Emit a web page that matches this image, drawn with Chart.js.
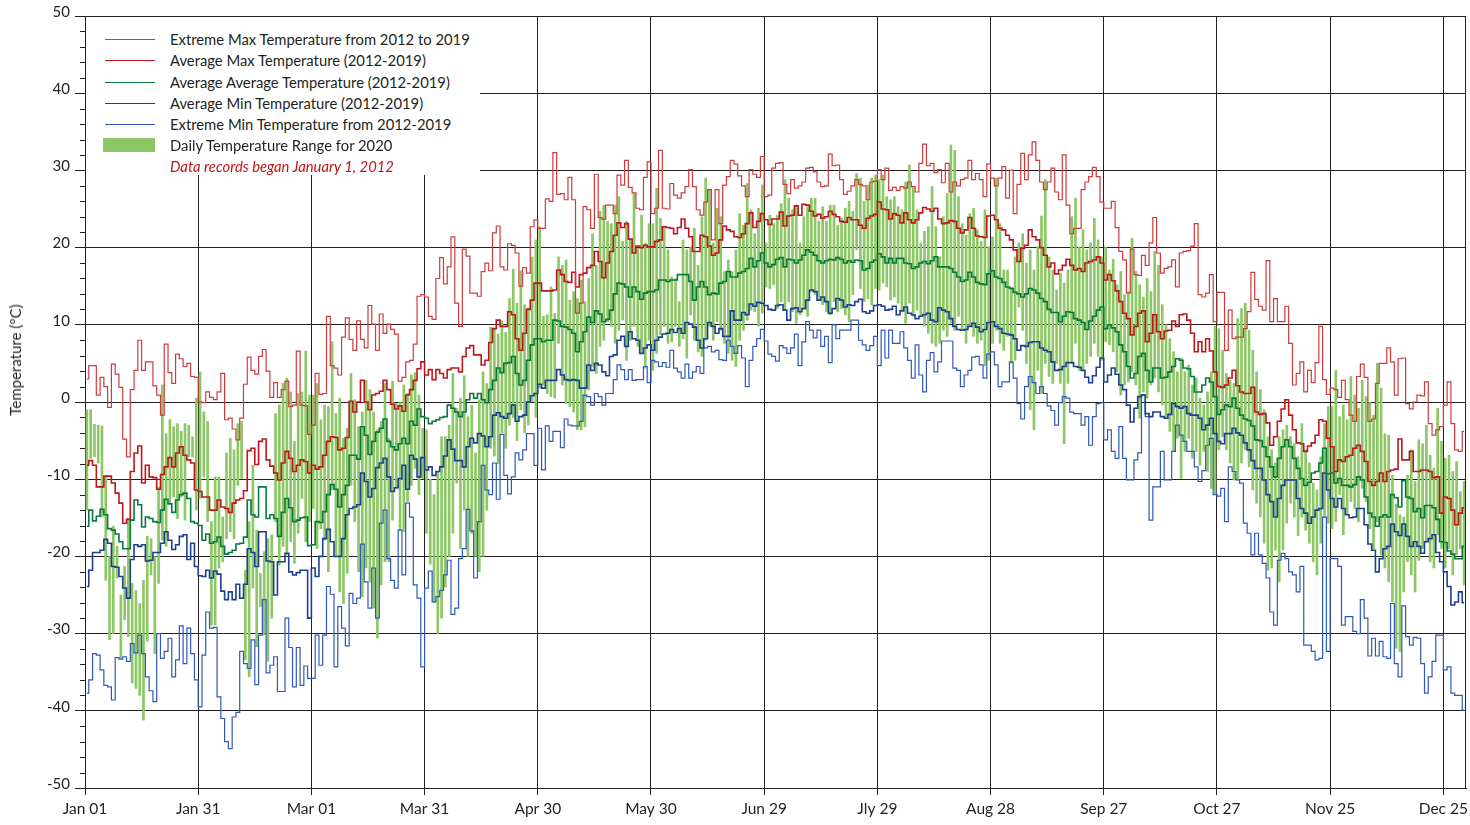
<!DOCTYPE html>
<html>
<head>
<meta charset="utf-8">
<title>Daily Temperature Range 2020</title>
<script src="https://cdn.jsdelivr.net/npm/chart.js@4.4.1/dist/chart.umd.min.js"></script>
<style>
    body { margin: 0; background: #fff; }
    #wrap { position: relative; width: 1470px; height: 825px; }
    #legend {
        position: absolute; left: 86px; top: 17px; width: 394px; height: 158px;
        background: #fff; font-family: Lato, sans-serif; font-size: 14.8px; color: #231f20;
    }
    .row { position: absolute; left: 0; height: 20px; line-height: 20px; width: 394px; }
    .row .mark { position: absolute; left: 19px; top: 10px; width: 50px; height: 0; }
    .row .txt { position: absolute; left: 84px; top: 0; white-space: nowrap; }
    #ytitle {
        position: absolute; left: 15px; top: 360px; transform: translate(-50%, -50%) rotate(-90deg);
        font-family: Lato, sans-serif; font-size: 15px; color: #231f20; white-space: nowrap;
    }
</style>
</head>
<body>
<div id="wrap">
    <canvas id="chart"></canvas>
    <div id="legend"></div>
    <div id="ytitle">Temperature (°C)</div>
</div>
<script>
// x axis ticks (day of year, 2020 is a leap year)
const tickDays = [0, 30, 60, 90, 120, 150, 180, 210, 240, 270, 300, 330, 360];
const tickLabels = ['Jan 01', 'Jan 31', 'Mar 01', 'Mar 31', 'Apr 30', 'May 30', 'Jun 29',
    'Jly 29', 'Aug 28', 'Sep 27', 'Oct 27', 'Nov 25', 'Dec 25'];

// one value per day, Jan 1 .. Dec 31 (30 days per line, last line 36)
const extMax = [
    3, 4.7, 4.7, 0.9, 3.2, 2.0, -0.7, 4.9, 3.6, 1.9, -4.8, -7.1, 1.6, 4.1, 8.0, 4.1, 5.2, 5.2, 2.1, 0.9, -1.7, 7.5, 3.8, 2.4, 6.2, 5.6, 4.6, 5.0, 3.3, 3.2,
    0.0, -0.1, 1.3, 0.6, 0.3, 1.3, 3.7, -2.3, -2.1, -3.5, -4.9, -2.1, 2.3, 5.8, 4.1, 3.6, 5.9, 6.8, 4.0, 0.6, 2.5, 0.6, 1.6, 2.7, -0.6, -0.4, 6.6, -0.4, -0.5, -4.2,
    -3.0, 3.7, 1.0, 1.1, 11.1, 4.7, 4.4, 3.5, 8.4, 10.9, 8.1, 6.7, 10.5, 8.1, 7.0, 12.5, 10.1, 6.7, 11.4, 8.9, 10.1, 9.4, 8.8, 2.7, 3.2, 5.2, 5.4, 7.5, 13.7, 13.9,
    13.6, 11.1, 10.7, 16.0, 18.7, 15.3, 17.5, 21.4, 12.8, 9.8, 19.8, 18.9, 14.1, 14.1, 13.7, 16.9, 18.0, 17.0, 21.9, 22.8, 17.5, 17.1, 20.5, 20.3, 19.3, 15.0, 17.4, 16.7, 22.7, 23.6,
    22.5, 22.5, 26.3, 26.0, 32.3, 26.9, 27.0, 26.2, 29.1, 26.2, 11.5, 12.8, 25.3, 24.9, 22.5, 29.5, 23.9, 23.7, 25.5, 25.5, 24.4, 29.4, 28.1, 31.3, 27.8, 27.1, 25.1, 24.9, 29.1, 31.1,
    24.4, 25.1, 32.6, 25.1, 25.0, 28.3, 26.8, 26.4, 27.1, 27.9, 30.1, 27.9, 24.9, 24.2, 25.9, 27.5, 21.0, 27.5, 23.1, 28.1, 29.2, 31.3, 30.8, 29.3, 28.0, 26.6, 30.1, 29.5, 29.1, 31.8,
    26.6, 26.8, 30.3, 30.9, 31.0, 28.2, 27.0, 28.8, 27.7, 28.0, 28.5, 30.3, 30.4, 29.8, 28.5, 27.9, 28.0, 32.1, 30.6, 30.7, 28.8, 26.9, 27.3, 28.0, 28.8, 28.2, 28.0, 26.2, 28.5, 28.6,
    30.1, 28.8, 30.3, 27.4, 27.8, 27.4, 27.9, 27.7, 28.5, 27.9, 27.2, 30.9, 33.4, 30.6, 30.9, 29.7, 30.1, 28.4, 30.9, 27.2, 28.5, 28.0, 28.8, 29.0, 31.3, 28.8, 29.6, 28.8, 26.6, 30.8,
    29.0, 28.0, 29.0, 30.5, 26.4, 30.0, 24.4, 28.2, 32.2, 28.8, 32.0, 33.7, 31.3, 28.5, 27.5, 28.5, 30.3, 27.2, 26.2, 32.0, 25.5, 21.8, 22.5, 22.5, 27.5, 28.5, 29.2, 30.4, 29.2, 25.9,
    25.1, 25.1, 26.0, 22.6, 19.5, 18.4, 14.1, 19.8, 16.5, 16.4, 19.0, 17.7, 20.6, 23.9, 19.3, 16.7, 17.3, 17.5, 18.4, 14.9, 19.3, 19.5, 19.6, 20.2, 23.1, 13.9, 13.6, 14.1, 16.5, 10.4,
    14.2, 14.2, 6.7, 11.9, 8.2, 8.4, 8.4, 9.5, 11.7, 16.8, 13.3, 12.4, 11.9, 18.3, 10.4, 13.4, 10.4, 10.4, 12.4, 7.6, 2.2, 3.7, 5.2, 1.3, 4.1, 2.5, 5.1, 9.8, 2.9, 1.0,
    1.8, 1.6, 0.6, 2.8, 0.3, -1.7, -2.5, 3.3, 4.9, 3.2, -2.5, -2.2, 2.4, 5.0, 5.0, 7.0, 5.2, 0.9, 5.6, 5.7, -0.2, -0.9, 0.0, 0.9, 0.8, 2.6, -2.8, -4.3, -3.6, -3.2, -0.4, 2.6, -2.8, -6.2, -6.4, -3.8
];

const avgMax = [
    -8.2, -7.6, -8.2, -11.0, -11.0, -9.6, -9.6, -10.5, -11.8, -13.1, -15.7, -15.2, -9.0, -6.6, -5.7, -10.5, -8.2, -9.7, -9.8, -11.3, -9.4, -8.4, -7.2, -8.4, -6.6, -5.8, -6.9, -7.5, -7.9, -11.4,
    -11.6, -12.3, -12.3, -14.0, -14.0, -12.7, -13.6, -13.8, -14.3, -13.1, -12.7, -12.5, -11.5, -6.3, -6.0, -8.1, -5.1, -4.8, -7.5, -8.3, -9.2, -10.1, -7.9, -6.4, -7.3, -9.0, -8.2, -7.5, -7.7, -9.2,
    -8.2, -8.7, -8.4, -6.9, -5.1, -4.5, -4.6, -6.2, -6.0, -4.6, 0.1, -1.3, 0.0, 2.8, 0.0, -1.0, 0.9, 1.1, 1.4, 2.8, 1.6, -0.3, -0.9, -0.5, -1.2, 0.9, 1.6, 2.8, 4.3, 5.2,
    3.5, 4.2, 2.9, 4.2, 3.7, 3.1, 4.2, 4.4, 4.4, 3.9, 5.9, 7.0, 7.3, 6.1, 6.1, 4.8, 5.4, 7.7, 9.5, 10.6, 9.8, 9.8, 11.7, 11.3, 8.2, 6.7, 8.9, 12.0, 13.2, 15.4,
    15.4, 14.4, 14.4, 14.4, 14.5, 17.1, 16.5, 15.6, 15.5, 16.8, 14.9, 16.5, 16.7, 17.4, 17.7, 19.5, 18.2, 16.1, 18.0, 19.5, 21.6, 23.2, 22.6, 23.1, 21.1, 19.3, 20.2, 20.0, 20.3, 20.1,
    20.1, 20.8, 21.0, 22.7, 22.6, 22.5, 21.8, 22.6, 23.7, 22.5, 21.4, 19.5, 19.5, 21.6, 21.4, 20.2, 19.0, 19.3, 21.0, 22.8, 22.3, 22.1, 21.4, 21.3, 21.8, 23.1, 24.5, 22.6, 23.4, 24.4,
    23.6, 23.0, 23.7, 23.7, 24.6, 22.8, 24.1, 24.2, 25.4, 24.2, 25.6, 25.5, 24.7, 24.1, 24.3, 23.8, 24.0, 24.7, 24.3, 24.0, 23.4, 23.3, 23.9, 23.6, 23.6, 22.9, 22.5, 23.8, 24.1, 24.3,
    25.9, 25.0, 24.9, 23.7, 24.4, 24.2, 23.2, 24.5, 23.6, 23.2, 23.6, 24.5, 25.2, 25.0, 24.7, 25.1, 23.7, 23.1, 23.2, 23.5, 23.4, 22.5, 21.9, 22.3, 23.9, 22.5, 21.5, 21.4, 21.3, 24.1,
    24.2, 23.6, 22.5, 22.3, 21.6, 21.0, 19.7, 18.2, 19.9, 20.3, 22.3, 21.4, 21.0, 20.0, 19.0, 17.5, 18.0, 16.6, 17.1, 17.7, 18.5, 17.7, 17.1, 17.3, 16.9, 18.0, 18.2, 18.4, 18.8, 18.0,
    15.8, 16.5, 15.7, 14.4, 13.0, 11.5, 10.8, 8.7, 9.8, 11.5, 11.8, 7.8, 8.9, 11.3, 9.1, 8.2, 9.2, 9.3, 10.5, 9.8, 11.3, 11.4, 10.6, 8.9, 6.5, 7.8, 6.5, 8.2, 6.6, 3.9,
    2.0, 1.9, 2.2, 3.1, 4.1, 2.1, 1.3, 1.1, 1.1, 1.9, -1.3, -1.6, -1.5, -2.7, -5.6, -4.5, -2.5, -0.9, 0.3, -1.7, -3.6, -5.3, -5.4, -6.4, -5.7, -5.3, -4.3, -2.3, -2.5, -4.7,
    -5.8, -9.0, -7.5, -7.7, -7.1, -6.9, -6.0, -5.6, -6.4, -7.7, -10.3, -10.8, -10.3, -9.2, -10.3, -9.0, -8.8, -8.7, -4.8, -7.5, -7.5, -6.4, -9.0, -9.0, -8.8, -8.8, -9.0, -9.8, -9.7, -14.4, -12.3, -12.5, -14.0, -15.9, -14.4, -13.7
];

const avgAvg = [
    -16.1, -14.0, -15.4, -14.8, -13.9, -14.6, -16.4, -16.6, -17.1, -18.1, -19.0, -19.0, -15.3, -12.7, -13.3, -16.2, -14.9, -15.1, -15.5, -15.6, -14.0, -12.6, -13.2, -14.3, -12.7, -12.0, -11.8, -12.5, -15.5, -15.7,
    -16.0, -17.9, -17.1, -18.3, -18.1, -17.5, -18.7, -19.7, -19.5, -19.2, -18.4, -18.3, -17.5, -12.7, -14.6, -14.9, -11.0, -11.0, -15.1, -14.6, -15.1, -17.4, -14.3, -12.5, -13.7, -15.5, -15.3, -15.0, -14.9, -18.6,
    -18.5, -15.5, -15.6, -14.2, -12.0, -10.7, -11.3, -13.6, -12.0, -10.8, -6.9, -6.9, -7.4, -3.2, -4.3, -6.8, -5.1, -3.9, -3.4, -2.2, -5.1, -5.8, -6.2, -5.4, -4.7, -5.4, -2.5, -3.0, -0.9, -1.9,
    -2.1, -2.8, -2.5, -2.3, -2.0, -1.9, -0.4, -0.8, -1.3, -1.9, -1.3, 0.3, 1.1, 0.5, 1.1, 0.3, -0.1, 1.6, 2.8, 4.4, 3.8, 5.0, 5.1, 5.9, 3.7, 2.2, 2.8, 5.4, 7.4, 8.2,
    8.2, 7.8, 8.0, 8.0, 10.6, 10.5, 9.8, 9.7, 9.4, 8.9, 6.5, 7.8, 9.1, 11.0, 10.3, 11.8, 11.4, 10.4, 10.7, 11.9, 14.0, 15.4, 15.3, 14.9, 13.6, 14.9, 14.3, 13.3, 14.1, 14.3,
    14.3, 14.5, 15.8, 15.8, 15.6, 15.8, 15.8, 16.5, 16.5, 16.5, 15.6, 13.2, 14.9, 15.6, 14.9, 13.9, 14.1, 14.0, 15.4, 15.6, 16.9, 16.2, 16.2, 16.7, 16.9, 17.3, 18.6, 17.5, 18.3, 19.3,
    18.0, 17.5, 17.8, 18.5, 18.7, 17.5, 18.5, 18.4, 18.0, 18.4, 19.0, 19.7, 19.4, 19.0, 18.3, 18.0, 18.3, 18.5, 18.4, 18.7, 18.5, 18.0, 18.3, 18.1, 18.4, 18.3, 17.1, 17.3, 18.1, 18.4,
    19.2, 18.8, 18.0, 18.6, 18.0, 18.6, 18.6, 18.0, 17.9, 17.3, 17.5, 18.0, 18.2, 17.9, 18.3, 18.8, 17.5, 17.5, 17.5, 17.3, 16.8, 16.2, 15.6, 15.8, 16.8, 16.2, 15.5, 15.3, 15.2, 16.6,
    17.0, 16.2, 16.0, 15.5, 14.9, 14.7, 14.2, 14.0, 13.6, 14.0, 14.7, 14.5, 14.1, 13.4, 13.0, 12.0, 11.6, 11.6, 10.4, 11.1, 11.7, 11.6, 10.8, 10.6, 10.3, 9.4, 10.5, 11.1, 11.9, 12.3,
    9.5, 10.0, 9.6, 9.1, 7.4, 6.5, 4.6, 3.1, 3.7, 5.9, 6.3, 4.1, 2.6, 4.4, 4.4, 3.1, 3.2, 3.9, 4.6, 5.6, 5.4, 4.4, 4.3, 3.3, 1.3, 1.3, 2.2, 3.1, 2.6, 0.7,
    -1.6, -1.0, -0.4, -0.6, 0.5, -0.8, -1.7, -2.2, -2.4, -3.1, -4.9, -5.0, -5.8, -7.1, -8.4, -9.7, -7.3, -5.8, -4.9, -5.8, -7.3, -8.6, -9.9, -10.8, -10.4, -9.2, -9.0, -7.9, -6.0, -9.3,
    -9.2, -10.5, -9.9, -10.8, -10.8, -11.0, -10.7, -9.7, -10.1, -12.3, -14.4, -14.9, -16.1, -14.9, -14.6, -14.9, -12.0, -12.4, -13.6, -10.2, -12.3, -12.5, -14.2, -13.8, -15.0, -13.4, -13.4, -13.7, -15.2, -18.1, -18.2, -19.3, -19.7, -20.3, -20.3, -18.7
];

const avgMin = [
    -23.9, -21.8, -19.5, -19.5, -19.2, -17.8, -18.3, -21.3, -21.4, -22.6, -24.1, -25.4, -20.4, -18.5, -18.7, -18.5, -20.6, -20.5, -19.5, -19.5, -18.3, -16.8, -17.9, -19.1, -18.5, -17.4, -17.2, -20.4, -18.3, -21.3,
    -22.5, -22.6, -21.8, -22.8, -21.9, -22.3, -24.5, -25.6, -24.6, -25.6, -23.6, -25.4, -23.6, -19.0, -19.5, -21.3, -16.8, -16.8, -20.6, -20.7, -25.0, -20.7, -20.7, -19.6, -22.0, -22.4, -22.1, -21.8, -21.8, -28.0,
    -21.5, -22.6, -20.0, -17.7, -16.5, -18.1, -20.0, -20.0, -17.7, -14.6, -13.8, -13.6, -13.3, -9.2, -10.3, -12.3, -11.2, -8.5, -7.9, -7.3, -9.7, -11.6, -11.1, -9.9, -8.2, -11.3, -6.9, -7.4, -9.7, -7.2,
    -8.8, -8.4, -9.5, -9.0, -8.4, -7.0, -4.9, -6.1, -7.6, -7.6, -8.4, -5.8, -4.7, -5.3, -4.1, -4.4, -5.8, -4.5, -1.7, -1.4, -1.9, -2.1, -1.5, -0.4, -2.5, -1.9, -1.7, 0.0, 0.8, 1.1,
    2.3, 1.8, 2.8, 2.8, 2.8, 4.2, 3.5, 2.9, 2.8, 2.9, 2.8, 1.8, 1.8, 4.8, 4.1, 5.0, 4.8, 3.9, 3.4, 5.9, 6.1, 8.0, 8.5, 7.2, 9.1, 8.2, 8.0, 6.3, 7.0, 7.4,
    6.7, 8.0, 8.4, 8.8, 8.9, 9.4, 9.0, 9.5, 8.9, 10.3, 10.1, 9.7, 8.0, 7.0, 8.2, 10.3, 9.8, 8.9, 9.5, 8.5, 8.5, 11.8, 10.6, 10.6, 11.6, 11.3, 12.7, 12.4, 12.9, 12.8,
    12.5, 12.0, 11.9, 12.5, 12.6, 11.9, 10.6, 12.1, 12.2, 11.7, 12.1, 13.2, 14.5, 14.3, 13.2, 13.6, 13.0, 11.5, 12.1, 13.4, 13.2, 12.3, 12.6, 12.5, 13.0, 13.3, 11.7, 11.5, 11.8, 12.5,
    12.6, 12.4, 11.9, 12.0, 12.4, 11.3, 11.8, 12.3, 11.5, 11.3, 10.8, 11.1, 11.3, 11.5, 10.6, 10.4, 12.2, 11.9, 11.7, 10.8, 9.8, 9.4, 9.3, 9.4, 9.8, 10.2, 9.7, 9.1, 9.4, 10.3,
    10.4, 9.8, 9.5, 8.9, 8.8, 8.7, 8.2, 6.7, 7.3, 7.2, 7.7, 7.8, 7.8, 7.0, 6.7, 6.5, 5.2, 4.1, 4.2, 4.6, 5.1, 5.1, 4.6, 4.5, 4.1, 3.2, 2.5, 3.4, 4.5, 5.7,
    2.6, 3.5, 4.4, 3.6, 2.2, 1.6, -0.4, -2.6, -0.8, 0.7, 0.9, -1.5, -1.9, -1.3, -1.3, -1.9, -2.1, -1.6, -0.2, -0.6, -0.8, -0.6, -1.5, -1.7, -1.7, -2.1, -3.6, -3.0, -2.1, -4.1,
    -5.1, -5.4, -4.1, -4.1, -3.4, -4.0, -4.3, -5.3, -6.2, -7.6, -8.6, -8.6, -10.1, -12.0, -12.9, -14.9, -12.5, -10.8, -10.1, -10.1, -10.1, -12.5, -13.8, -14.4, -15.7, -14.9, -14.0, -13.8, -9.2, -11.4,
    -12.5, -13.6, -12.5, -13.8, -14.6, -15.0, -14.9, -13.8, -13.8, -15.9, -18.4, -19.2, -22.0, -20.3, -19.0, -18.7, -15.8, -16.8, -17.3, -15.8, -17.4, -18.7, -18.1, -18.7, -19.6, -18.1, -17.7, -17.2, -19.5, -20.7, -22.0, -23.9, -26.3, -25.9, -24.6, -26.0
];

const extMin = [
    -37.7, -36.0, -32.6, -32.8, -34.7, -36.7, -36.9, -38.6, -33.1, -33.3, -33.0, -33.6, -31.3, -32.5, -30.2, -32.6, -35.6, -37.4, -38.8, -30.0, -33.2, -32.3, -30.6, -35.6, -33.4, -29.0, -33.9, -29.3, -32.6, -36.0,
    -39.5, -32.8, -27.2, -29.3, -29.2, -38.2, -41.0, -44.0, -44.9, -40.8, -40.2, -32.3, -33.9, -34.5, -30.8, -36.6, -30.2, -25.6, -35.1, -34.1, -33.0, -37.5, -37.5, -28.0, -31.8, -36.9, -31.8, -36.7, -34.2, -35.8,
    -35.8, -30.2, -34.1, -30.2, -23.9, -24.9, -34.3, -26.5, -29.3, -31.6, -24.8, -26.1, -25.4, -18.4, -23.3, -26.7, -21.5, -28.0, -15.7, -14.0, -20.3, -23.1, -24.1, -16.6, -22.4, -13.1, -14.9, -23.7, -25.4, -34.3,
    -24.1, -21.9, -25.9, -25.2, -24.4, -22.4, -20.5, -27.5, -26.7, -20.3, -19.0, -13.9, -16.7, -22.8, -15.5, -8.2, -11.4, -12.0, -7.9, -12.6, -4.2, -9.5, -11.9, -9.7, -6.6, -7.5, -6.2, -4.1, -4.1, -8.2,
    -3.4, -8.8, -3.1, -5.1, -3.8, -3.8, -5.9, -2.2, -3.0, -3.1, -3.1, -2.5, 0.9, 0.7, -0.4, 1.1, 0.7, -0.4, 1.1, 1.1, 2.9, 4.8, 4.2, 2.9, 4.2, 2.8, 2.9, 2.9, 4.6, 2.5,
    5.4, 5.2, 4.6, 5.1, 4.5, 6.7, 4.4, 3.9, 3.1, 4.9, 3.1, 3.9, 4.6, 3.7, 7.0, 7.2, 6.5, 6.7, 5.5, 5.4, 8.0, 7.2, 6.3, 7.3, 5.7, 2.0, 5.4, 7.2, 8.2, 9.4,
    7.9, 6.2, 5.9, 5.3, 7.3, 7.0, 6.3, 7.0, 8.8, 4.7, 7.8, 10.4, 9.3, 8.3, 9.3, 7.2, 8.5, 5.1, 10.0, 8.2, 9.3, 9.3, 9.3, 10.6, 10.6, 8.0, 7.4, 6.7, 7.3, 8.5,
    4.7, 9.3, 5.7, 9.3, 7.6, 7.6, 9.1, 7.0, 5.4, 3.1, 7.4, 3.5, 1.3, 5.4, 6.4, 3.9, 5.2, 7.9, 7.9, 7.9, 4.4, 4.1, 2.0, 3.5, 4.1, 5.8, 5.9, 4.8, 3.1, 6.2,
    6.5, 4.8, 2.0, 2.6, 2.6, 5.2, 3.1, -0.2, -2.2, 2.0, 3.3, 2.5, 1.1, 2.0, 1.1, -0.5, -1.1, -3.0, -0.1, 0.7, 0.5, -1.3, -1.5, -1.5, -3.0, -1.9, -5.6, -1.9, -0.2, -0.1,
    -4.9, -3.6, -6.4, -7.3, -3.2, -7.3, -10.1, -10.1, -7.5, -6.6, 0.9, -1.9, -15.3, -11.0, -11.0, -6.4, -10.1, -10.1, -6.4, -3.0, -4.3, -5.1, -6.4, -6.4, -8.4, -10.3, -8.9, -5.6, -4.7, -12.0,
    -12.2, -11.2, -15.5, -8.4, -9.0, -10.1, -10.5, -15.7, -17.0, -19.8, -17.0, -19.8, -20.9, -22.8, -27.2, -28.9, -20.5, -19.6, -20.3, -22.0, -22.4, -24.6, -21.3, -31.5, -31.5, -32.3, -33.4, -33.2, -14.9, -32.3,
    -20.3, -20.3, -21.3, -28.9, -27.8, -27.8, -29.7, -30.0, -25.6, -28.0, -32.9, -30.6, -32.9, -31.0, -33.0, -33.2, -26.1, -33.9, -35.6, -26.4, -30.4, -31.5, -30.5, -30.6, -33.9, -37.7, -35.6, -33.6, -30.2, -30.2, -34.7, -34.3, -37.7, -38.0, -38.0, -39.9
];

// 2020 daily range
const dayHigh = [
    -1.0, -1.0, -2.9, -3.0, -3.1, -9.7, -20.0, -16.1, -18.7, -25.0, -21.3, -15.1, -23.5, -24.4, -26.1, -23.1, -17.4, -17.7, -20.0, -11.0, 2.2, -4.1, -2.3, -3.2, -2.8, -3.8, -2.8, -3.0, -4.5, 0.5,
    3.9, -1.3, -2.5, -15.5, -9.7, -9.7, -14.9, -6.6, -4.7, -6.2, -2.8, -2.5, -21.8, -15.5, -8.2, -16.6, -22.2, -19.4, -17.7, -17.2, -1.5, -0.4, 2.4, 3.1, 1.3, -5.1, 1.1, 1.3, 6.6, 0.9,
    0.9, 2.4, -2.3, -0.4, -0.6, 7.8, -1.5, 0.5, -4.7, -3.4, 3.7, 0.3, -3.2, -1.3, 2.8, 1.6, -1.3, -3.6, -2.5, 2.4, -4.7, 2.7, -0.2, 0.0, 2.2, 1.1, 3.5, 3.8, 0.9, -3.4,
    -3.6, -10.0, -12.0, -9.0, -4.5, -4.5, -3.0, 3.7, -0.8, 0.5, 3.4, -1.9, -0.4, -6.6, 0.3, 3.9, 2.4, 9.7, 9.5, 8.8, 10.5, 9.0, 13.4, 17.2, 12.8, 17.0, 12.6, 12.2, 18.8, 21.0,
    22.7, 11.1, 11.3, 14.9, 11.5, 18.8, 17.7, 18.4, 13.2, 14.3, 13.4, 15.8, 13.0, 16.0, 21.8, 17.7, 24.7, 25.5, 23.4, 23.1, 25.5, 26.6, 20.8, 23.4, 21.0, 27.0, 19.9, 24.2, 20.6, 23.1,
    23.1, 27.7, 23.8, 22.7, 19.7, 16.2, 16.0, 13.0, 21.0, 19.7, 20.1, 22.5, 17.7, 24.0, 29.0, 27.5, 20.6, 25.1, 24.0, 16.9, 18.4, 16.9, 19.7, 24.4, 22.9, 28.3, 24.9, 21.8, 25.1, 28.1,
    20.6, 24.2, 23.1, 24.2, 25.7, 28.8, 26.4, 24.9, 25.5, 20.6, 24.0, 25.3, 26.4, 26.4, 23.4, 25.3, 23.4, 25.5, 25.5, 22.9, 23.8, 25.1, 26.0, 24.7, 29.6, 29.0, 26.0, 28.1, 29.0, 29.4,
    28.8, 29.4, 26.6, 26.2, 26.6, 25.3, 24.9, 28.5, 30.7, 27.9, 24.9, 20.6, 22.1, 22.7, 27.9, 22.7, 18.8, 24.0, 27.0, 33.3, 32.6, 26.6, 23.1, 21.6, 24.4, 25.1, 22.3, 20.8, 24.9, 20.1,
    21.4, 29.0, 23.1, 17.1, 17.1, 14.9, 18.8, 20.6, 21.8, 18.0, 19.7, 17.1, 20.1, 24.1, 28.8, 18.8, 17.1, 14.5, 16.7, 15.4, 17.1, 24.0, 26.4, 20.1, 22.3, 19.7, 20.6, 23.8, 21.0, 18.8,
    20.1, 17.1, 18.5, 15.2, 16.9, 13.9, 14.3, 21.2, 16.9, 15.2, 13.6, 16.0, 14.3, 19.5, 17.7, 12.6, 10.0, 8.2, 6.5, 3.9, 5.7, 3.9, 4.8, 2.2, 3.1, 0.5, -0.4, 1.3, 3.9, 9.8,
    9.5, 6.7, 3.7, 2.8, 2.4, 10.8, 12.1, 12.8, 9.3, 6.7, 3.9, 1.6, -1.0, -4.5, -6.2, -7.9, -4.5, -3.6, -3.0, -4.5, -5.4, -7.1, -2.8, -6.2, -7.9, -10.5, -11.4, -7.1, -2.8, -0.6,
    -0.6, 4.1, -1.9, -0.4, -2.3, 3.3, 0.9, -0.8, 2.8, 0.7, 0.0, -1.7, 5.0, 1.8, -4.1, -4.3, -9.5, -13.2, -14.6, -14.9, -9.5, -6.2, -10.3, -4.9, -5.4, -3.0, -6.9, -8.6, -0.8, -5.1, -7.3, -6.9, -9.0, -7.7, -11.6, -10.3
];

const dayLow = [
    -14.0, -7.3, -7.1, -7.9, -14.9, -23.1, -30.8, -30.0, -22.8, -33.2, -28.2, -30.4, -36.4, -37.1, -38.0, -41.2, -31.0, -22.4, -32.6, -23.5, -17.9, -18.7, -13.1, -12.3, -15.1, -12.3, -15.3, -7.1, -7.1, -14.0,
    -12.5, -9.7, -15.5, -28.9, -28.9, -21.5, -20.7, -17.7, -16.8, -17.7, -10.8, -9.9, -33.4, -35.6, -24.1, -31.7, -26.5, -30.2, -33.6, -28.0, -15.5, -21.1, -18.7, -19.8, -18.1, -20.9, -17.0, -12.5, -18.1, -15.5,
    -13.8, -19.0, -16.4, -17.9, -22.0, -11.4, -19.8, -24.6, -26.1, -22.2, -10.8, -15.5, -22.0, -25.2, -21.5, -23.3, -26.7, -30.6, -23.7, -20.7, -20.7, -15.3, -11.2, -16.6, -16.8, -12.9, -10.8, -8.6, -12.0, -9.9,
    -17.0, -21.0, -26.0, -30.0, -28.0, -24.0, -20.0, -17.0, -10.5, -19.0, -14.0, -20.0, -17.0, -20.0, -22.0, -20.0, -14.0, -6.0, -7.0, -8.0, -4.0, -6.0, -3.0, -2.0, -5.0, -1.0, -4.0, -3.0, 0.0, -2.0,
    1.8, 2.2, 1.1, 0.7, 0.5, 7.6, 2.2, -0.2, -0.6, -1.3, -3.6, -3.6, -3.2, 1.6, 4.6, 3.7, 7.2, 8.0, 10.4, 9.8, 7.6, 9.3, 10.6, 5.4, 8.0, 9.8, 7.2, 6.3, 4.4, 8.0,
    4.1, 6.3, 8.7, 9.8, 7.6, 7.8, 9.8, 7.2, 8.2, 5.7, 11.3, 8.0, 6.5, 5.9, 8.0, 9.8, 8.0, 10.4, 9.3, 7.6, 6.3, 5.4, 4.6, 8.0, 9.3, 10.6, 11.9, 11.7, 9.8, 11.5,
    14.9, 14.7, 15.2, 12.1, 13.0, 11.9, 13.0, 11.7, 10.2, 11.3, 12.1, 11.1, 14.3, 13.9, 13.4, 12.6, 11.7, 11.3, 13.0, 11.7, 12.1, 11.3, 10.4, 13.9, 19.7, 14.7, 13.0, 13.4, 12.6, 14.7,
    14.5, 15.4, 14.9, 13.2, 13.6, 12.8, 11.9, 10.2, 12.8, 11.1, 11.9, 11.1, 9.8, 8.9, 7.6, 7.2, 7.6, 9.3, 8.5, 10.2, 9.3, 11.1, 9.3, 7.6, 9.8, 8.5, 7.6, 8.0, 4.7, 5.4,
    7.6, 9.3, 7.6, 6.7, 8.5, 5.0, 5.4, 12.3, 9.3, 5.0, -1.0, -3.6, 4.1, 1.1, 5.0, 3.3, 2.4, 5.0, 2.4, -5.4, 2.4, 5.0, 7.6, 4.1, 4.1, 5.0, 5.9, 7.6, 5.9, 5.4,
    7.8, 7.4, 6.5, 3.9, 0.9, 2.2, 2.6, 3.9, 2.2, -2.1, 1.3, 0.5, 2.2, 3.1, 1.3, -0.4, -2.1, -3.8, -6.4, -4.7, -9.9, -6.4, -4.7, -7.3, -6.4, -8.2, -6.4, -9.0, -11.2, -12.0,
    -6.2, -4.5, -6.2, -7.9, -10.1, -10.1, -7.9, -6.2, -8.4, -11.4, -13.1, -14.9, -18.3, -21.8, -21.5, -19.2, -23.3, -19.2, -15.7, -13.1, -14.9, -17.3, -14.9, -16.6, -18.3, -20.7, -22.4, -18.3, -14.9, -15.7,
    -16.4, -15.5, -12.0, -17.2, -14.6, -12.9, -13.8, -15.5, -11.2, -12.9, -16.4, -19.0, -15.5, -19.8, -21.5, -23.3, -25.9, -31.9, -32.3, -24.6, -20.7, -22.4, -24.6, -20.5, -19.0, -18.1, -20.7, -21.5, -17.2, -19.0, -21.5, -19.0, -22.4, -19.8, -19.0, -23.7
];

const FONT = 'Lato, sans-serif';
const INK = '#231f20';
const GRID = '#231f20';

// each day is drawn centred in its own slot [i, i+1]
const toPoints = arr => arr.map((v, i) => ({ x: i + 0.5, y: v }));

function stepLine(label, data, color, width) {
    return {
        type: 'line',
        label: label,
        data: toPoints(data),
        borderColor: color,
        borderWidth: width,
        stepped: 'middle',
        pointRadius: 0,
        fill: false,
        order: 1
    };
}

const seriesInfo = [
    { label: 'Extreme Max Temperature from 2012 to 2019', data: extMax, color: '#cf3a3c', width: 1.2 },
    { label: 'Average Max Temperature (2012-2019)', data: avgMax, color: '#c1151c', width: 1.6 },
    { label: 'Average Average Temperature (2012-2019)', data: avgAvg, color: '#07793d', width: 1.6 },
    { label: 'Average Min Temperature (2012-2019)', data: avgMin, color: '#1c3f93', width: 1.6 },
    { label: 'Extreme Min Temperature from 2012-2019', data: extMin, color: '#2f58b8', width: 1.2 }
];
const BAR_COLOR = '#8dc765';

// frame: right border + minor ticks on the temperature axis
const framePlugin = {
    id: 'frame',
    afterDraw(chart) {
        const { ctx, chartArea: a, scales: { y } } = chart;
        ctx.save();
        ctx.strokeStyle = GRID;
        ctx.lineWidth = 1;
        ctx.beginPath();
        ctx.moveTo(Math.round(a.right) - 0.5, a.top);
        ctx.lineTo(Math.round(a.right) - 0.5, a.bottom);
        for (let v = -48; v < 50; v += 2) {
            if (v % 10 === 0) continue;
            const py = Math.round(y.getPixelForValue(v)) + 0.5;
            ctx.moveTo(a.left - 5, py);
            ctx.lineTo(a.left, py);
        }
        ctx.stroke();
        ctx.restore();
    }
};

function buildLegend() {
    const box = document.getElementById('legend');
    const rowsY = [22, 43, 65, 86, 107];
    seriesInfo.forEach((s, i) => {
        const row = document.createElement('div');
        row.className = 'row';
        row.style.top = (rowsY[i] - 10) + 'px';
        row.innerHTML = '<div class="mark" style="border-top:' + (s.width > 1.3 ? 1.5 : 1) + 'px solid ' + s.color + '"></div>' +
            '<span class="txt">' + s.label + '</span>';
        box.appendChild(row);
    });
    const bar = document.createElement('div');
    bar.className = 'row';
    bar.style.top = '118px';
    bar.innerHTML = '<div style="position:absolute;left:17px;top:3px;width:52px;height:14px;background:' + BAR_COLOR + '"></div>' +
        '<span class="txt">Daily Temperature Range for 2020</span>';
    box.appendChild(bar);
    const note = document.createElement('div');
    note.className = 'row';
    note.style.top = '139px';
    note.innerHTML = '<span class="txt" style="color:#c1151c;font-style:italic">Data records began January 1, 2012</span>';
    box.appendChild(note);
}

document.addEventListener('DOMContentLoaded', () => {
    buildLegend();
    const canvas = document.getElementById('chart');
    canvas.width = 1470;
    canvas.height = 825;

    const datasets = seriesInfo.map(s => stepLine(s.label, s.data, s.color, s.width));
    datasets.push({
        type: 'bar',
        label: 'Daily Temperature Range for 2020',
        data: dayHigh.map((h, i) => ({ x: i + 0.5, y: [dayLow[i], h] })),
        backgroundColor: BAR_COLOR,
        borderWidth: 0,
        barThickness: 2,
        grouped: false,
        order: 10
    });

    new Chart(canvas.getContext('2d'), {
        type: 'bar',
        data: { datasets: datasets },
        options: {
            responsive: false,
            animation: false,
            layout: { padding: { top: 16, right: 4, left: 0, bottom: 0 } },
            plugins: {
                legend: { display: false },
                tooltip: { enabled: false }
            },
            scales: {
                x: {
                    type: 'linear',
                    min: 0,
                    max: 366,
                    offset: false,
                    afterBuildTicks: s => { s.ticks = tickDays.map(v => ({ value: v })); },
                    afterFit: s => { s.height = 37; s.paddingLeft = 0; s.paddingRight = 0; },
                    ticks: {
                        autoSkip: false,
                        maxRotation: 0,
                        padding: 5,
                        color: INK,
                        font: { family: FONT, size: 15.5 },
                        callback: v => tickLabels[tickDays.indexOf(v)]
                    },
                    grid: { offset: false, color: GRID, lineWidth: 1, tickLength: 7, tickColor: GRID },
                    border: { color: GRID, width: 1 }
                },
                y: {
                    min: -50,
                    max: 50,
                    afterFit: s => { s.width = 85; },
                    ticks: {
                        stepSize: 10,
                        padding: 5,
                        labelOffset: -4,
                        color: INK,
                        font: { family: FONT, size: 15 }
                    },
                    grid: { color: GRID, lineWidth: 1, tickLength: 10, tickColor: GRID },
                    border: { color: GRID, width: 1 }
                }
            }
        },
        plugins: [framePlugin]
    });
});
</script>
</body>
</html>
